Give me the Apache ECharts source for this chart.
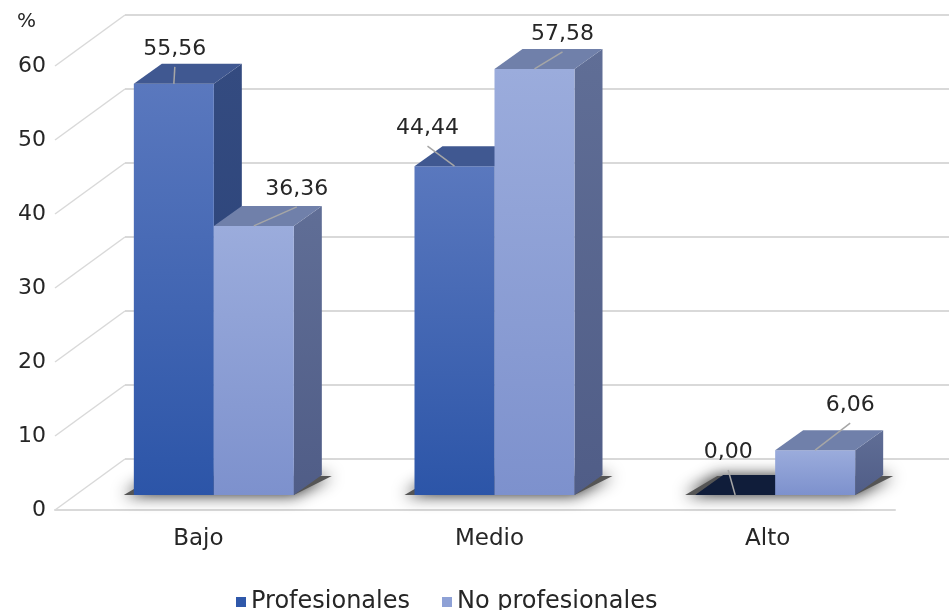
<!DOCTYPE html>
<html><head><meta charset="utf-8">
<script src="https://cdn.jsdelivr.net/npm/echarts@6/dist/echarts.min.js"></script>
<style>html,body{margin:0;padding:0;background:#fff}#c{width:949px;height:610px}</style>
</head><body><div id="c"></div>
<script>
// ---- data ----
const categories = ['Bajo', 'Medio', 'Alto'];
const seriesNames = ['Profesionales', 'No profesionales'];
const profesionales = [55.56, 44.44, 0.00];
const noProfesionales = [36.36, 57.58, 6.06];
const yTicks = [0, 10, 20, 30, 40, 50, 60];

// ---- layout / style (pixels) ----
const BAR_W = 80;
const BAR_DEPTH = [28, -20];
const WALL_DEPTH = [70, -51];
const labelOffsets = [
  [[1, -17], [-27, -20], [-7, -25]],
  [[43, -19], [28, -17], [35, -27]]
];
const catLabelShift = [31, 10, 15];
const FONT = 'DejaVu Sans';
const TXT = '#262626';
const GRIDC = '#d9d9d9';

function grad(a, b) {
  return new echarts.graphic.LinearGradient(0, 0, 0, 1, [{offset: 0, color: a}, {offset: 1, color: b}]);
}
const palette = [
  {front: ['#5a78be', '#2c55a8'], side: ['#344b80', '#284178'], top: '#405891', zeroTop: '#101d3a', legend: '#2f58aa'},
  {front: ['#9bacdc', '#7d91cd'], side: ['#606e96', '#505d87'], top: '#7080aa', zeroTop: '#3a4670', legend: '#8ea1d6'}
];
const seriesValues = [profesionales, noProfesionales];

function boxRender(sIdx) {
  return function (params, api) {
    const i = api.value(0), v = api.value(1);
    const top = api.coord([i, v]), base = api.coord([i, 0]);
    const cx = top[0];
    const x0 = sIdx === 0 ? cx - BAR_W : cx, x1 = x0 + BAR_W;
    const yt = top[1], yb = base[1];
    const dx = BAR_DEPTH[0], dy = BAR_DEPTH[1];
    const c = palette[sIdx];
    const ch = [];
    ch.push({type: 'polygon', shape: {points: [[x1, yt], [x1 + dx, yt + dy], [x1 + dx, yb + dy], [x1, yb]]}, style: {fill: grad(c.side[0], c.side[1])}});
    if (yb - yt > 0.5) ch.push({type: 'rect', shape: {x: x0, y: yt, width: BAR_W, height: yb - yt}, style: {fill: grad(c.front[0], c.front[1])}});
    ch.push({type: 'polygon', shape: {points: [[x0, yt], [x1, yt], [x1 + dx, yt + dy], [x0 + dx, yt + dy]]}, style: {fill: v === 0 ? c.zeroTop : c.top}});
    return {type: 'group', children: ch};
  };
}

const series = [];
// soft floor shadows
series.push({
  type: 'custom', xAxisIndex: 0, yAxisIndex: 0, z: 1, silent: true,
  data: categories.map((c, i) => [i, 0]),
  renderItem: function (params, api) {
    const base = api.coord([api.value(0), 0]);
    const x0 = base[0] - BAR_W, x1 = base[0] + BAR_W, yb = base[1];
    const dx = BAR_DEPTH[0], dy = BAR_DEPTH[1];
    return {type: 'polygon', shape: {points: [[x0 - 10, yb], [x1, yb], [x1 + dx + 10, yb + dy + 1], [x0 + dx - 6, yb + dy + 1]]},
      style: {fill: '#555', shadowBlur: 16, shadowColor: 'rgba(0,0,0,0.9)'}};
  }
});
seriesNames.forEach((name, s) => {
  series.push({
    type: 'custom', name: name, xAxisIndex: 0, yAxisIndex: 0, z: 2 + s,
    itemStyle: {color: palette[s].legend},
    data: seriesValues[s].map((v, i) => [i, v]),
    renderItem: boxRender(s)
  });
});
// data labels with leader lines
const labelData = [];
seriesValues.forEach((arr, s) => arr.forEach((v, i) => labelData.push([i, v, s])));
series.push({
  type: 'custom', xAxisIndex: 0, yAxisIndex: 0, z: 10, silent: true,
  data: labelData,
  renderItem: function (params, api) {
    const i = api.value(0), v = api.value(1), s = api.value(2);
    const p = api.coord([i, v]);
    const ax = s === 0 ? p[0] - BAR_W / 2 : p[0] + BAR_W / 2;
    const off = labelOffsets[s][i];
    const ex = ax + off[0], ey = p[1] + off[1];
    return {type: 'group', children: [
      {type: 'line', shape: {x1: ax, y1: p[1], x2: ex, y2: ey}, style: {stroke: '#a6a6a6', lineWidth: 1.5}},
      {type: 'text', style: {x: ex, y: ey - 18, text: v.toFixed(2).replace('.', ','), fill: TXT,
        font: '22px "' + FONT + '"', align: 'center', verticalAlign: 'middle'}}
    ]};
  }
});
// wall-to-front diagonal gridlines
series.push({
  type: 'custom', xAxisIndex: 1, yAxisIndex: 1, z: 0, silent: true,
  data: yTicks.map(t => [0, t]),
  renderItem: function (params, api) {
    const p = api.coord([0, api.value(1)]);
    return {type: 'line', shape: {x1: p[0], y1: p[1], x2: p[0] - WALL_DEPTH[0], y2: p[1] - WALL_DEPTH[1]},
      style: {stroke: GRIDC, lineWidth: 1.5}};
  }
});

const catRich = {};
catLabelShift.forEach((sh, i) => {
  catRich['c' + i] = {fontSize: 23, fontFamily: FONT, color: TXT, padding: [0, sh, 0, 0]};
});

const option = {
  backgroundColor: '#fff',
  animation: false,
  grid: [
    {left: 73.5, right: 33.5, top: 51, bottom: 115},
    {left: 125, right: 0, top: 15, bottom: 151},
    {left: 55, right: 54, top: 66, bottom: 100}
  ],
  xAxis: [
    {type: 'category', gridIndex: 0, data: categories, axisLine: {show: false}, axisTick: {show: false},
      axisLabel: {margin: 33, fontSize: 23, fontFamily: FONT, color: TXT, formatter: (v, i) => '{c' + i + '|' + v + '}', rich: catRich}},
    {type: 'value', gridIndex: 1, min: 0, max: 1, show: false},
    {type: 'category', gridIndex: 2, data: categories, axisLine: {show: true, lineStyle: {color: GRIDC, width: 2}},
      axisTick: {show: false}, axisLabel: {show: false}}
  ],
  yAxis: [
    {type: 'value', gridIndex: 0, min: 0, max: 60, interval: 10, show: false},
    {type: 'value', gridIndex: 1, min: 0, max: 60, interval: 10, axisLine: {show: false}, axisTick: {show: false},
      axisLabel: {show: false}, splitLine: {show: true, lineStyle: {color: GRIDC, width: 2}}},
    {type: 'value', gridIndex: 2, min: 0, max: 60, interval: 10, axisLine: {show: false}, axisTick: {show: false},
      splitLine: {show: false}, axisLabel: {margin: 9, fontSize: 22, fontFamily: FONT, color: TXT}}
  ],
  legend: {
    data: seriesNames, left: 231, top: 585, icon: 'rect', itemWidth: 10, itemHeight: 10, itemGap: 32,
    textStyle: {fontSize: 24, fontFamily: FONT, color: TXT}
  },
  graphic: [{type: 'text', left: 17, top: 12, style: {text: '%', font: '20px "' + FONT + '"', fill: TXT}}],
  series: series
};
echarts.init(document.getElementById('c')).setOption(option);
</script>
</body></html>
